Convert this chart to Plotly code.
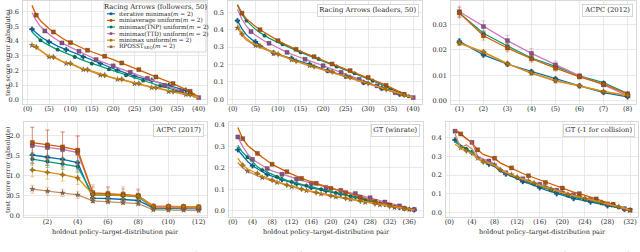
import plotly.graph_objects as go

# ---------------- series / styles ----------------
SERIES_NAMES = ["iterative minimax(<i>m</i> = 2)", "miniaverage uniform(<i>m</i> = 2)",
                "minimax(TNP) uniform(<i>m</i> = 2)", "minimax(TTD) uniform(<i>m</i> = 2)",
                "minimax uniform(<i>m</i> = 2)", "RPOSST<sub>SEQ</sub>(<i>m</i> = 2)"]
COLORS = ["#0173B2", "#D55E00", "#029E73", "#CC78BC", "#DE8F05", "#CA9161"]
MCOLORS = ["#0d5f8c", "#a8520f", "#0b6e52", "#8a4f86", "#b0720a", "#8f6840"]
SYMBOLS = ["cross", "square", "pentagon", "square", "star-diamond", "star"]

# ---------------- Racing Arrows (followers, 50) : x = 1..40 ----------------
RAF_X = list(range(1, 41))
RAF_ITER = [0.482, 0.455, 0.432, 0.412, 0.395, 0.380, 0.366, 0.354, 0.342, 0.329, 0.316, 0.304, 0.292, 0.281,
            0.269, 0.258, 0.247, 0.235, 0.224, 0.212, 0.201, 0.191, 0.180, 0.170, 0.160, 0.153, 0.146, 0.139,
            0.132, 0.123, 0.114, 0.105, 0.096, 0.088, 0.080, 0.072, 0.064, 0.048, 0.031, 0.014]
RAF_MAVG = [0.645, 0.578, 0.540, 0.510, 0.485, 0.463, 0.440, 0.422, 0.405, 0.390, 0.376, 0.363, 0.350, 0.338,
            0.328, 0.317, 0.307, 0.297, 0.286, 0.274, 0.262, 0.251, 0.240, 0.228, 0.217, 0.205, 0.193, 0.180,
            0.168, 0.155, 0.144, 0.133, 0.121, 0.110, 0.097, 0.084, 0.071, 0.057, 0.036, 0.014]
RAF_TNP = [0.463, 0.432, 0.406, 0.387, 0.370, 0.356, 0.342, 0.329, 0.316, 0.304, 0.292, 0.281, 0.269, 0.258,
           0.247, 0.237, 0.227, 0.217, 0.208, 0.198, 0.188, 0.177, 0.167, 0.158, 0.149, 0.139, 0.130, 0.121,
           0.112, 0.103, 0.094, 0.085, 0.076, 0.068, 0.059, 0.052, 0.045, 0.039, 0.027, 0.014]
RAF_TTD = [0.596, 0.540, 0.500, 0.470, 0.447, 0.425, 0.405, 0.388, 0.373, 0.358, 0.344, 0.331, 0.316, 0.302,
           0.288, 0.274, 0.263, 0.252, 0.241, 0.231, 0.220, 0.209, 0.198, 0.187, 0.177, 0.167, 0.156, 0.146,
           0.134, 0.122, 0.110, 0.098, 0.088, 0.078, 0.068, 0.059, 0.048, 0.037, 0.025, 0.014]
RAF_MMU = [0.377, 0.360, 0.338, 0.316, 0.298, 0.292, 0.280, 0.262, 0.253, 0.248, 0.236, 0.222, 0.210, 0.205,
           0.195, 0.183, 0.172, 0.167, 0.158, 0.148, 0.142, 0.139, 0.131, 0.122, 0.114, 0.110, 0.102, 0.093,
           0.085, 0.082, 0.075, 0.066, 0.058, 0.055, 0.049, 0.043, 0.037, 0.034, 0.025, 0.014]
RAF_RPOSST = [0.372, 0.356, 0.334, 0.312, 0.293, 0.289, 0.276, 0.259, 0.248, 0.244, 0.232, 0.218, 0.205, 0.201,
              0.191, 0.179, 0.168, 0.164, 0.155, 0.145, 0.139, 0.136, 0.128, 0.119, 0.110, 0.107, 0.099, 0.090,
              0.082, 0.079, 0.072, 0.063, 0.055, 0.052, 0.046, 0.040, 0.034, 0.031, 0.022, 0.012]

# ---------------- Racing Arrows (leaders, 50) : x = 1..40 ----------------
RAL_X = list(range(1, 41))
RAL_ITER = [0.452, 0.405, 0.370, 0.347, 0.330, 0.310, 0.294, 0.280, 0.268, 0.259, 0.251, 0.243, 0.236, 0.228,
            0.219, 0.211, 0.203, 0.193, 0.184, 0.174, 0.165, 0.157, 0.149, 0.141, 0.134, 0.125, 0.115, 0.106,
            0.096, 0.088, 0.080, 0.071, 0.063, 0.055, 0.047, 0.038, 0.029, 0.022, 0.015, 0.010]
RAL_MAVG = [0.545, 0.495, 0.462, 0.438, 0.418, 0.400, 0.383, 0.367, 0.352, 0.337, 0.323, 0.310, 0.298, 0.287,
            0.276, 0.265, 0.255, 0.245, 0.234, 0.224, 0.213, 0.203, 0.194, 0.184, 0.175, 0.165, 0.155, 0.146,
            0.136, 0.126, 0.115, 0.103, 0.092, 0.080, 0.067, 0.055, 0.042, 0.029, 0.019, 0.010]
RAL_TNP = [0.540, 0.488, 0.452, 0.425, 0.402, 0.383, 0.366, 0.352, 0.339, 0.327, 0.316, 0.304, 0.292, 0.281,
           0.270, 0.260, 0.250, 0.241, 0.232, 0.221, 0.210, 0.199, 0.188, 0.178, 0.168, 0.159, 0.149, 0.139,
           0.128, 0.118, 0.107, 0.095, 0.083, 0.070, 0.057, 0.045, 0.034, 0.025, 0.017, 0.010]
RAL_TTD = [0.517, 0.460, 0.420, 0.389, 0.368, 0.350, 0.335, 0.322, 0.308, 0.295, 0.282, 0.270, 0.259, 0.249,
           0.239, 0.230, 0.220, 0.211, 0.202, 0.193, 0.184, 0.174, 0.165, 0.155, 0.145, 0.135, 0.125, 0.115,
           0.106, 0.096, 0.087, 0.077, 0.067, 0.058, 0.048, 0.038, 0.030, 0.022, 0.015, 0.010]
RAL_MMU = [0.430, 0.375, 0.350, 0.330, 0.316, 0.306, 0.293, 0.281, 0.270, 0.260, 0.250, 0.240, 0.230, 0.220,
           0.212, 0.204, 0.196, 0.188, 0.180, 0.173, 0.166, 0.159, 0.151, 0.142, 0.134, 0.126, 0.117, 0.109,
           0.100, 0.092, 0.083, 0.075, 0.066, 0.057, 0.049, 0.041, 0.033, 0.025, 0.017, 0.010]
RAL_RPOSST = [0.410, 0.368, 0.340, 0.322, 0.308, 0.298, 0.287, 0.274, 0.262, 0.255, 0.246, 0.236, 0.226, 0.217,
              0.209, 0.201, 0.193, 0.185, 0.177, 0.170, 0.163, 0.156, 0.148, 0.140, 0.131, 0.123, 0.114, 0.106,
              0.097, 0.089, 0.081, 0.072, 0.064, 0.056, 0.048, 0.040, 0.032, 0.024, 0.016, 0.009]

# ---------------- ACPC (2012) : x = 1..8 ----------------
A12_X = list(range(1, 9))
A12_ITER = [0.0233, 0.0180, 0.0144, 0.0115, 0.0087, 0.0059, 0.0033, 0.0016]
A12_MAVG = [0.0345, 0.0255, 0.0207, 0.0165, 0.0128, 0.0094, 0.0066, 0.0028]
A12_TNP = [0.0343, 0.0265, 0.0215, 0.0168, 0.0135, 0.0098, 0.0072, 0.0029]
A12_TTD = [0.0349, 0.0291, 0.0236, 0.0186, 0.0141, 0.0098, 0.0063, 0.0021]
A12_MMU = [0.0227, 0.0192, 0.0146, 0.0110, 0.0080, 0.0059, 0.0037, 0.0022]
A12_RPOSST = [0.0225, 0.0190, 0.0145, 0.0108, 0.0078, 0.0059, 0.0036, 0.0021]
A12_ERR_ITER = [0.0010, 0.0007, 0.0006, 0.0005, 0.0004, 0.0003, 0.0002, 0.0002]
A12_ERR_MAVG = [0.0020, 0.0017, 0.0015, 0.0013, 0.0011, 0.0008, 0.0006, 0.0003]
A12_ERR_TNP = [0.0012, 0.0010, 0.0009, 0.0008, 0.0006, 0.0005, 0.0004, 0.0002]
A12_ERR_TTD = [0.0022, 0.0022, 0.0021, 0.0019, 0.0015, 0.0010, 0.0008, 0.0005]
A12_ERR_MMU = [0.0008, 0.0007, 0.0006, 0.0005, 0.0004, 0.0003, 0.0002, 0.0002]
A12_ERR_RPOSST = [0.0006, 0.0005, 0.0005, 0.0004, 0.0003, 0.0003, 0.0002, 0.0001]

# ---------------- ACPC (2017) : x = 1..12 ----------------
A17_X = list(range(1, 13))
A17_ITER = [1.51, 1.45, 1.40, 1.32, 0.44, 0.43, 0.41, 0.38, 0.19, 0.18, 0.18, 0.17]
A17_MAVG = [1.82, 1.76, 1.71, 1.63, 0.57, 0.55, 0.53, 0.50, 0.24, 0.23, 0.23, 0.22]
A17_TNP = [1.41, 1.35, 1.29, 1.22, 0.52, 0.51, 0.50, 0.47, 0.20, 0.20, 0.19, 0.19]
A17_TTD = [1.75, 1.70, 1.65, 1.57, 0.55, 0.53, 0.52, 0.49, 0.21, 0.21, 0.20, 0.19]
A17_MMU = [1.14, 1.08, 1.02, 0.94, 0.53, 0.52, 0.51, 0.49, 0.24, 0.24, 0.23, 0.22]
A17_RPOSST = [0.66, 0.61, 0.57, 0.52, 0.37, 0.35, 0.33, 0.30, 0.15, 0.14, 0.14, 0.13]
A17_ERR_ITER = [0.20, 0.20, 0.19, 0.18, 0.10, 0.10, 0.09, 0.09, 0.04, 0.04, 0.04, 0.04]
A17_ERR_MAVG = [0.38, 0.37, 0.38, 0.36, 0.15, 0.15, 0.14, 0.14, 0.05, 0.05, 0.05, 0.05]
A17_ERR_TNP = [0.15, 0.15, 0.14, 0.14, 0.10, 0.10, 0.09, 0.09, 0.04, 0.04, 0.04, 0.04]
A17_ERR_TTD = [0.45, 0.43, 0.42, 0.40, 0.22, 0.20, 0.20, 0.18, 0.05, 0.05, 0.05, 0.05]
A17_ERR_MMU = [0.17, 0.17, 0.16, 0.16, 0.08, 0.08, 0.08, 0.07, 0.04, 0.04, 0.04, 0.04]
A17_ERR_RPOSST = [0.10, 0.10, 0.09, 0.09, 0.05, 0.05, 0.05, 0.05, 0.03, 0.03, 0.03, 0.03]

# ---------------- GT (winrate) : x = 1..37 ----------------
GTW_X = list(range(1, 38))
GTW_ITER = [0.285, 0.255, 0.230, 0.210, 0.195, 0.182, 0.170, 0.161, 0.153, 0.145, 0.138, 0.131, 0.125, 0.119,
            0.113, 0.108, 0.102, 0.097, 0.092, 0.087, 0.082, 0.077, 0.072, 0.068, 0.063, 0.058, 0.052, 0.047,
            0.041, 0.036, 0.030, 0.025, 0.020, 0.015, 0.010, 0.007, 0.004]
GTW_MAVG = [0.389, 0.337, 0.305, 0.285, 0.268, 0.250, 0.233, 0.217, 0.205, 0.193, 0.182, 0.171, 0.161, 0.151,
            0.143, 0.135, 0.128, 0.120, 0.112, 0.104, 0.097, 0.090, 0.084, 0.077, 0.070, 0.062, 0.055, 0.048,
            0.042, 0.036, 0.031, 0.026, 0.021, 0.016, 0.011, 0.007, 0.003]
GTW_TNP = [0.305, 0.272, 0.250, 0.230, 0.205, 0.190, 0.180, 0.170, 0.158, 0.150, 0.142, 0.135, 0.129, 0.123,
           0.117, 0.111, 0.106, 0.100, 0.094, 0.088, 0.083, 0.078, 0.073, 0.068, 0.063, 0.057, 0.052, 0.046,
           0.040, 0.035, 0.030, 0.024, 0.018, 0.014, 0.010, 0.007, 0.005]
GTW_TTD = [0.345, 0.300, 0.265, 0.240, 0.225, 0.210, 0.197, 0.186, 0.178, 0.170, 0.162, 0.155, 0.148, 0.141,
           0.134, 0.128, 0.121, 0.114, 0.108, 0.102, 0.098, 0.095, 0.090, 0.085, 0.080, 0.073, 0.066, 0.060,
           0.053, 0.047, 0.040, 0.034, 0.028, 0.022, 0.016, 0.010, 0.005]
GTW_MMU = [0.245, 0.213, 0.195, 0.183, 0.174, 0.162, 0.152, 0.143, 0.135, 0.127, 0.120, 0.113, 0.107, 0.101,
           0.095, 0.090, 0.085, 0.080, 0.075, 0.070, 0.066, 0.062, 0.058, 0.054, 0.050, 0.045, 0.040, 0.036,
           0.032, 0.028, 0.024, 0.020, 0.016, 0.012, 0.009, 0.006, 0.003]
GTW_RPOSST = [0.225, 0.200, 0.185, 0.172, 0.163, 0.155, 0.146, 0.138, 0.132, 0.125, 0.118, 0.112, 0.106, 0.100,
              0.094, 0.088, 0.083, 0.078, 0.073, 0.068, 0.064, 0.060, 0.056, 0.052, 0.048, 0.043, 0.039, 0.035,
              0.031, 0.027, 0.022, 0.018, 0.014, 0.011, 0.008, 0.005, 0.003]

# ---------------- GT (-1 for collision) : x = 1..32 ----------------
GTC_X = list(range(1, 33))
GTC_ITER = [0.388, 0.360, 0.340, 0.320, 0.290, 0.270, 0.258, 0.245, 0.220, 0.205, 0.193, 0.180, 0.165, 0.155,
            0.145, 0.132, 0.120, 0.110, 0.100, 0.092, 0.083, 0.074, 0.068, 0.062, 0.056, 0.050, 0.043, 0.036,
            0.030, 0.024, 0.017, 0.010]
GTC_MAVG = [0.445, 0.420, 0.395, 0.372, 0.335, 0.310, 0.300, 0.290, 0.265, 0.250, 0.238, 0.222, 0.208, 0.196,
            0.185, 0.172, 0.160, 0.150, 0.140, 0.130, 0.120, 0.108, 0.100, 0.092, 0.084, 0.072, 0.062, 0.052,
            0.043, 0.033, 0.022, 0.012]
GTC_TNP = [0.378, 0.355, 0.340, 0.322, 0.292, 0.276, 0.265, 0.252, 0.226, 0.210, 0.197, 0.185, 0.172, 0.162,
           0.152, 0.140, 0.128, 0.118, 0.108, 0.099, 0.090, 0.081, 0.075, 0.068, 0.061, 0.055, 0.048, 0.041,
           0.034, 0.027, 0.019, 0.011]
GTC_TTD = [0.435, 0.418, 0.393, 0.375, 0.300, 0.287, 0.275, 0.260, 0.232, 0.212, 0.200, 0.190, 0.180, 0.168,
           0.158, 0.150, 0.138, 0.128, 0.118, 0.110, 0.102, 0.094, 0.086, 0.078, 0.070, 0.062, 0.053, 0.045,
           0.036, 0.027, 0.019, 0.011]
GTC_MMU = [0.365, 0.345, 0.330, 0.315, 0.288, 0.270, 0.262, 0.250, 0.228, 0.212, 0.200, 0.188, 0.176, 0.166,
           0.156, 0.145, 0.134, 0.124, 0.114, 0.105, 0.096, 0.088, 0.081, 0.074, 0.067, 0.060, 0.053, 0.046,
           0.038, 0.030, 0.021, 0.012]
GTC_RPOSST = [0.420, 0.345, 0.362, 0.340, 0.290, 0.278, 0.268, 0.255, 0.230, 0.214, 0.202, 0.190, 0.178, 0.168,
              0.158, 0.147, 0.136, 0.126, 0.116, 0.107, 0.098, 0.090, 0.083, 0.076, 0.069, 0.062, 0.055, 0.047,
              0.039, 0.031, 0.022, 0.012]

# ---------------- tick labels ----------------
RA_TICKS = [0, 5, 10, 15, 20, 25, 30, 35, 40]
A12_TICKS = [1, 2, 3, 4, 5, 6, 7, 8]
A17_TICKS = [2, 4, 6, 8, 10, 12]
GTW_TICKS = [0, 4, 8, 12, 16, 20, 24, 28, 32, 36]
GTC_TICKS = [0, 4, 8, 12, 16, 20, 24, 28, 32]

PANEL_TITLES = ["Racing Arrows (followers, 50)", "Racing Arrows (leaders, 50)", "ACPC (2012)",
                "ACPC (2017)", "GT (winrate)", "GT (-1 for collision)"]
YLABEL = "test score error (absolute)"
XLABEL = "holdout policy–target-distribution pair"
CAPTION = ("Figure 2: Expected test score error (absolute difference) for each holdout policy–target-distribution "
           "pair (left-to-right)")

W, H = 640, 252
FONT = "DejaVu Serif"

panels = [
    dict(x=RAF_X, ys=[RAF_ITER, RAF_MAVG, RAF_TNP, RAF_TTD, RAF_MMU, RAF_RPOSST], errs=None,
         step=4, offs=[0, 1, 2, 3, 1, 0], ticks=RA_TICKS, xr=[-1.1, 41.95], yr=[-0.03, 0.675],
         ytv=[0, 0.1, 0.2, 0.3, 0.4, 0.5, 0.6], ytt=["0.0", "0.1", "0.2", "0.3", "0.4", "0.5", "0.6"],
         px=(23, 207), py=(1, 104)),
    dict(x=RAL_X, ys=[RAL_ITER, RAL_MAVG, RAL_TNP, RAL_TTD, RAL_MMU, RAL_RPOSST], errs=None,
         step=4, offs=[0, 1, 2, 3, 1, 0], ticks=RA_TICKS, xr=[-1.1, 41.95], yr=[-0.027, 0.565],
         ytv=[0, 0.1, 0.2, 0.3, 0.4, 0.5], ytt=["0.0", "0.1", "0.2", "0.3", "0.4", "0.5"],
         px=(228, 422), py=(1, 104)),
    dict(x=A12_X, ys=[A12_ITER, A12_MAVG, A12_TNP, A12_TTD, A12_MMU, A12_RPOSST],
         errs=[A12_ERR_ITER, A12_ERR_MAVG, A12_ERR_TNP, A12_ERR_TTD, A12_ERR_MMU, A12_ERR_RPOSST],
         step=1, offs=[0] * 6, ticks=A12_TICKS, xr=[0.65, 8.35], yr=[-0.0012, 0.0391],
         ytv=[0, 0.01, 0.02, 0.03], ytt=["0.00", "0.01", "0.02", "0.03"],
         px=(451, 636), py=(1, 104)),
    dict(x=A17_X, ys=[A17_ITER, A17_MAVG, A17_TNP, A17_TTD, A17_MMU, A17_RPOSST],
         errs=[A17_ERR_ITER, A17_ERR_MAVG, A17_ERR_TNP, A17_ERR_TTD, A17_ERR_MMU, A17_ERR_RPOSST],
         step=1, offs=[0] * 6, ticks=A17_TICKS, xr=[0.45, 12.55], yr=[-0.03, 2.33],
         ytv=[0, 0.5, 1.0, 1.5, 2.0], ytt=["0.0", "0.5", "1.0", "1.5", "2.0"],
         px=(24, 207), py=(122, 217)),
    dict(x=GTW_X, ys=[GTW_ITER, GTW_MAVG, GTW_TNP, GTW_TTD, GTW_MMU, GTW_RPOSST], errs=None,
         step=3, offs=[0, 1, 2, 0, 1, 2], ticks=GTW_TICKS, xr=[-0.8, 38.8], yr=[-0.03, 0.415],
         ytv=[0, 0.1, 0.2, 0.3, 0.4], ytt=["0.0", "0.1", "0.2", "0.3", "0.4"],
         px=(229, 423), py=(122, 217)),
    dict(x=GTC_X, ys=[GTC_ITER, GTC_MAVG, GTC_TNP, GTC_TTD, GTC_MMU, GTC_RPOSST], errs=None,
         step=3, offs=[0, 1, 2, 0, 2, 1], ticks=GTC_TICKS, xr=[-0.6, 33.4], yr=[-0.025, 0.484],
         ytv=[0, 0.1, 0.2, 0.3, 0.4], ytt=["0.0", "0.1", "0.2", "0.3", "0.4"],
         px=(446, 638), py=(122, 217)),
]


def hexa(c, a):
    c = c.lstrip("#")
    return "rgba(%d,%d,%d,%.2f)" % (int(c[0:2], 16), int(c[2:4], 16), int(c[4:6], 16), a)


fig = go.Figure()
layout = dict(width=W, height=H, margin=dict(l=0, r=0, t=0, b=0, autoexpand=False), paper_bgcolor="white",
              plot_bgcolor="white", showlegend=False, font=dict(family=FONT, size=6.5, color="#262626"))
annotations = []
shapes = []

draw_order = [0, 2, 3, 1, 5, 4]
for pi, p in enumerate(panels):
    k = "" if pi == 0 else str(pi + 1)
    xa, ya = "x" + k, "y" + k
    x = p["x"]
    for si in draw_order:
        y = p["ys"][si]
        fig.add_trace(go.Scatter(x=x, y=y, xaxis=xa, yaxis=ya, mode="lines",
                                 line=dict(color=COLORS[si], width=1.3), hoverinfo="skip"))
        off, st = p["offs"][si], p["step"]
        mk = dict(x=x[off::st], y=y[off::st], xaxis=xa, yaxis=ya, mode="markers",
                  marker=dict(symbol=SYMBOLS[si], size=4.2, color=MCOLORS[si],
                              line=dict(color=hexa("#222222", 0.5), width=0.4)),
                  hoverinfo="skip")
        if p["errs"] is not None:
            e = p["errs"][si]
            mk["error_y"] = dict(type="data", array=e[off::st], visible=True,
                                 color=hexa(COLORS[si], 0.45), thickness=1.0, width=2)
        fig.add_trace(go.Scatter(**mk))

    x0, x1 = p["px"]
    y0, y1 = p["py"]
    axis_common = dict(showgrid=True, gridcolor="#e3e3e3", gridwidth=0.8, zeroline=False,
                       showline=True, linecolor="#d0d0d0", linewidth=0.8, mirror=True, automargin=False,
                       ticks="", tickfont=dict(family=FONT, size=6.5, color="#262626"))
    layout["xaxis" + k] = dict(domain=[x0 / W, x1 / W], anchor=ya, range=p["xr"],
                               tickmode="array", tickvals=p["ticks"],
                               ticktext=["(%d)" % t for t in p["ticks"]], ticklabelstandoff=-2,
                               **axis_common)
    layout["yaxis" + k] = dict(domain=[1 - y1 / H, 1 - y0 / H], anchor=xa, range=p["yr"],
                               tickmode="array", tickvals=p["ytv"], ticktext=p["ytt"],
                               ticklabelstandoff=2, **axis_common)
    # panel title boxes
    if pi != 0:
        annotations.append(dict(xref=xa + " domain", yref=ya + " domain", x=0.985, y=0.975,
                                xanchor="right", yanchor="top", text=PANEL_TITLES[pi], showarrow=False,
                                font=dict(family=FONT, size=6.8, color="#262626"),
                                bgcolor="white", bordercolor="#cccccc", borderwidth=0.8, borderpad=1.5))

# manual legend for panel 1
lx0, lx1, ly0, ly1 = 104, 206, 2, 52
shapes.append(dict(type="rect", xref="paper", yref="paper", x0=lx0 / W, x1=lx1 / W,
                   y0=1 - ly1 / H, y1=1 - ly0 / H, fillcolor="rgba(255,255,255,0.85)",
                   line=dict(color="#cccccc", width=0.8)))
annotations.append(dict(xref="paper", yref="paper", x=(lx0 + lx1) / 2 / W, y=1 - 7 / H,
                        xanchor="center", yanchor="middle", text=PANEL_TITLES[0], showarrow=False,
                        font=dict(family=FONT, size=6.8, color="#262626")))
for i, name in enumerate(SERIES_NAMES):
    yy = 13.8 + i * 6.6
    shapes.append(dict(type="line", xref="paper", yref="paper", x0=107 / W, x1=115 / W,
                       y0=1 - yy / H, y1=1 - yy / H, line=dict(color=COLORS[i], width=1.2)))
    shapes.append(dict(type="rect", xref="paper", yref="paper", x0=109.7 / W, x1=112.3 / W,
                       y0=1 - (yy + 1.3) / H, y1=1 - (yy - 1.3) / H, fillcolor=MCOLORS[i],
                       line=dict(width=0)))
    annotations.append(dict(xref="paper", yref="paper", x=117 / W, y=1 - yy / H,
                            xanchor="left", yanchor="middle", text=name, showarrow=False,
                            font=dict(family=FONT, size=5.8, color="#262626")))

# axis titles
for yc in [(1 + 104) / 2, (122 + 217) / 2]:
    annotations.append(dict(xref="paper", yref="paper", x=7.5 / W, y=1 - yc / H, xanchor="center",
                            yanchor="middle", text=YLABEL, textangle=-90, showarrow=False,
                            font=dict(family=FONT, size=6.5, color="#262626")))
for (a, b) in [(24, 207), (229, 423), (446, 638)]:
    annotations.append(dict(xref="paper", yref="paper", x=(a + b) / 2 / W, y=1 - 231.5 / H,
                            xanchor="center", yanchor="middle", text=XLABEL, showarrow=False,
                            font=dict(family=FONT, size=6.5, color="#262626")))

# caption (cut off at the bottom edge)
annotations.append(dict(xref="paper", yref="paper", x=0, y=1 - 247.5 / H, xanchor="left",
                        yanchor="top", text=CAPTION, showarrow=False,
                        font=dict(family=FONT, size=10.5, color="#111111")))

layout["annotations"] = annotations
layout["shapes"] = shapes
fig.update_layout(**layout)
fig.write_html("out.html", config={"displayModeBar": False, "staticPlot": True},
               post_script="document.body.style.margin='0px';document.body.style.overflow='hidden';")
